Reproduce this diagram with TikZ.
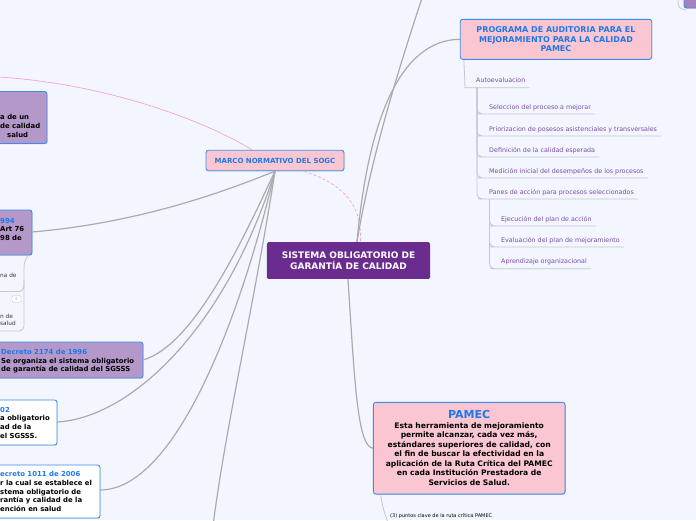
\documentclass[tikz,border=0pt]{standalone}
\usepackage{fontspec}
\setmainfont{DejaVu Sans}
\usetikzlibrary{shadows}
\definecolor{paper}{HTML}{F3F6FE}
\definecolor{corepurple}{HTML}{6A2C8F}
\definecolor{pinkfill}{HTML}{F9C6D1}
\definecolor{edgeblue}{HTML}{3D8BEB}
\definecolor{titleblue}{HTML}{1F78E6}
\definecolor{lilac}{HTML}{B498C9}
\definecolor{topicpurple}{HTML}{7B4BA6}
\definecolor{linkgray}{HTML}{ABABAB}
\definecolor{twiggray}{HTML}{C6C6CB}
\definecolor{pinkline}{HTML}{F3A8C4}
\definecolor{notegray}{HTML}{3A3A3A}

\tikzset{
  mainbox/.style={fill=corepurple, rounded corners=1.5pt, text=white, align=center,
    font=\fontsize{9}{10.7}\selectfont\bfseries, inner sep=0pt},
  pinkbox/.style={fill=pinkfill, draw=edgeblue, line width=0.9pt, rounded corners=2.5pt,
    text=titleblue, align=center, inner sep=0pt,
    drop shadow={shadow xshift=0.5pt, shadow yshift=-0.8pt, opacity=0.2}},
  lilacbox/.style={fill=lilac, draw=edgeblue, line width=0.9pt, rounded corners=2.5pt,
    drop shadow={shadow xshift=0.5pt, shadow yshift=-0.8pt, opacity=0.2}},
  whitebox/.style={lilacbox, fill=white},
  boxtext/.style={anchor=north west, align=left, inner sep=0pt,
    font=\fontsize{6.9}{8.6}\selectfont\bfseries},
  topic/.style={anchor=base west, inner sep=0pt, text=topicpurple,
    font=\fontsize{6.35}{7}\selectfont},
  note/.style={anchor=north west, align=left, inner sep=0pt, text=notegray,
    font=\fontsize{5.8}{7}\selectfont},
  link/.style={draw=linkgray, line width=1.2pt},
  twig/.style={draw=twiggray, line width=0.8pt, rounded corners=5pt},
  relation/.style={draw=pinkline, line width=0.7pt},
}

\begin{document}
\begin{tikzpicture}[x=1pt, y=-1pt]
\fill[paper] (0,0) rectangle (696,520);
\clip (0,0) rectangle (696,520);

% central topic and main branches
\node[mainbox, minimum width=163.3, minimum height=36.7] (sogc) at (348.5,260.5)
  {SISTEMA OBLIGATORIO DE\\GARANTÍA DE CALIDAD};
\node[pinkbox, minimum width=138, minimum height=20.5,
  font=\fontsize{7}{8}\selectfont\bfseries] (marco) at (275,160.5) {MARCO NORMATIVO DEL SOGC};
\node[pinkbox, minimum width=191.5, minimum height=40,
  font=\fontsize{8}{9.7}\selectfont\bfseries] (programa) at (556,39.3)
  {PROGRAMA DE AUDITORIA PARA EL\\MEJORAMIENTO PARA LA CALIDAD\\PAMEC};
\node[pinkbox, minimum width=191.7, minimum height=91.7, text width=188,
  font=\fontsize{7.6}{9.5}\selectfont\bfseries, text=black] (pamec) at (469.2,448.2)
  {{\fontsize{11}{12.3}\selectfont\color{titleblue}PAMEC\par}
   Esta herramienta de mejoramiento\\permite alcanzar, cada vez más,\\
   estándares superiores de calidad, con\\el fin de buscar la efectividad en la\\
   aplicación de la Ruta Crítica del PAMEC\\en cada Institución Prestadora de\\
   Servicios de Salud.};
\node[note, anchor=base west, font=\fontsize{5}{6}\selectfont, text=black] (puntos) at (390,517)
  {(3) puntos clave de la ruta crítica PAMEC};

% boxes cut by the left edge
\draw[lilacbox] (-10,91.5) rectangle (47,143.5);
\node[boxtext] (creacion) at (0,114.5) {a de un\\de calidad\\\hspace*{7pt}salud};

\draw[lilacbox] (-10,210) rectangle (32,255);
\node[boxtext] (ley) at (0,218) {{\color{titleblue}994}\\Art 76\\98 de};
\coordinate (leyend) at (32,232);
\coordinate (leyfoot) at (28,255.5);
\node[note] (leyhijo) at (0,273) {na de};
\node[draw=twiggray, fill=white, rounded corners=1pt, text=linkgray,
  font=\fontsize{4}{4}\selectfont, minimum width=9, minimum height=6.5, inner sep=0pt]
  (cuenta) at (16.5,299) {3};
\node[note] (leynieto) at (0,313.5) {n de\\salud};

\draw[lilacbox] (-10,342) rectangle (143,378);
\node[boxtext] (dec1996) at (1,349) {{\color{titleblue}Decreto 2174 de 1996}\\
  Se organiza el sistema obligatorio\\de garantía de calidad del SGSSS};
\coordinate (dec1996end) at (143,360);

\draw[whitebox] (-10,400) rectangle (57,445);
\node[boxtext] (dec2002) at (0,407) {{\color{titleblue}02}\\a obligatorio\\ad de la\\el SGSSS.};
\coordinate (dec2002end) at (57,422);

\draw[whitebox] (-10,465) rectangle (100,518);
\node[boxtext] (dec2006) at (0,471.5) {{\color{titleblue}ecreto 1011 de 2006}\\
  r la cual se establece el\\stema obligatorio de\\rantía y calidad de la\\ención en salud};
\coordinate (dec2006end) at (100,490);

% node cut by the top right corner
\draw[lilacbox, fill=lilac!80!corepurple] (684,-12) rectangle (712,8);
\coordinate (esquina) at (686,10);
\coordinate (fondo) at (213,526);
\coordinate (cima) at (423,-5);

% links
\draw[link] (marco.south) .. controls (240,185) and (150,222) .. (leyend);
\draw[link] (marco.south) .. controls (245,235) and (195,345) .. (dec1996end);
\draw[link] (marco.south) .. controls (225,330) and (130,418) .. (dec2002end);
\draw[link] (marco.south) .. controls (240,320) and (175,490) .. (dec2006end);
\draw[link] (marco.south) .. controls (255,300) and (225,430) .. (fondo);
\draw[link] ([xshift=8.5pt]sogc.north) .. controls (368,120) and (400,40) .. (programa.west);
\draw[link] ([xshift=8.5pt]sogc.north) .. controls (372,150) and (405,50) .. (cima);
\draw[link] ([xshift=-0.5pt]sogc.south) .. controls (355,390) and (358,446) .. (pamec.west);
\draw[twig] ([xshift=8pt]pamec.south west) .. controls (382,505) .. ([yshift=-12pt]puntos.base west);
\draw[twig] (678,-2) .. controls (678,8) .. (esquina);

% relationship
\draw[relation] (-2,77) .. controls (100,83) and (200,118) .. ([xshift=-23pt]marco.north);
\draw[relation, dash pattern=on 3pt off 2pt] ([xshift=29pt]marco.south)
  .. controls (345,185) and (362,205) .. ([xshift=12pt]sogc.north);

% twigs under the Ley box
\draw[twig] (leyfoot) .. controls (24,262) .. (24,280) |- (-2,291.5);
\draw[twig] (24,280) |- (-2,331);

% PAMEC program steps
\node[topic] (autoeval) at (476,82.7) {Autoevaluacion};
\node[topic] (seleccion) at (489,109) {Seleccion del proceso a mejorar};
\node[topic] (priorizacion) at (489,131) {Priorizacion de posesos asistenciales y transversales};
\node[topic] (definicion) at (489,152) {Definición de la calidad esperada};
\node[topic] (medicion) at (489,173) {Medición inicial del desempeños de los procesos};
\node[topic] (planes) at (489,194) {Panes de acción para procesos seleccionados};
\node[topic] (ejecucion) at (501,221) {Ejecución del plan de acción};
\node[topic] (evaluacion) at (501,242) {Evaluación del plan de mejoramiento};
\node[topic] (aprendizaje) at (501,263.7) {Aprendizaje organizacional};

\draw[twig] ([xshift=4pt]programa.south west) .. controls +(1,20) and +(-5,0)
  .. ([xshift=-6pt,yshift=-5pt]autoeval.base west) -- ([xshift=4pt,yshift=-5pt]autoeval.base east);
\draw[twig] ([xshift=1pt,yshift=-5pt]autoeval.base west) |- ([xshift=-6pt,yshift=-5pt]seleccion.base west)
  -- ([xshift=4pt,yshift=-5pt]seleccion.base east);
\draw[twig] ([xshift=1pt,yshift=-5pt]autoeval.base west) |- ([xshift=-6pt,yshift=-5pt]priorizacion.base west)
  -- ([xshift=4pt,yshift=-5pt]priorizacion.base east);
\draw[twig] ([xshift=1pt,yshift=-5pt]autoeval.base west) |- ([xshift=-6pt,yshift=-5pt]definicion.base west)
  -- ([xshift=4pt,yshift=-5pt]definicion.base east);
\draw[twig] ([xshift=1pt,yshift=-5pt]autoeval.base west) |- ([xshift=-6pt,yshift=-5pt]medicion.base west)
  -- ([xshift=4pt,yshift=-5pt]medicion.base east);
\draw[twig] ([xshift=1pt,yshift=-5pt]autoeval.base west) |- ([xshift=-6pt,yshift=-5pt]planes.base west)
  -- ([xshift=4pt,yshift=-5pt]planes.base east);
\draw[twig] ([xshift=0.5pt,yshift=-5pt]planes.base west) |- ([xshift=-6pt,yshift=-5pt]ejecucion.base west)
  -- ([xshift=4pt,yshift=-5pt]ejecucion.base east);
\draw[twig] ([xshift=0.5pt,yshift=-5pt]planes.base west) |- ([xshift=-6pt,yshift=-5pt]evaluacion.base west)
  -- ([xshift=4pt,yshift=-5pt]evaluacion.base east);
\draw[twig] ([xshift=0.5pt,yshift=-5pt]planes.base west) |- ([xshift=-6pt,yshift=-5pt]aprendizaje.base west)
  -- ([xshift=4pt,yshift=-5pt]aprendizaje.base east);
\end{tikzpicture}
\end{document}
